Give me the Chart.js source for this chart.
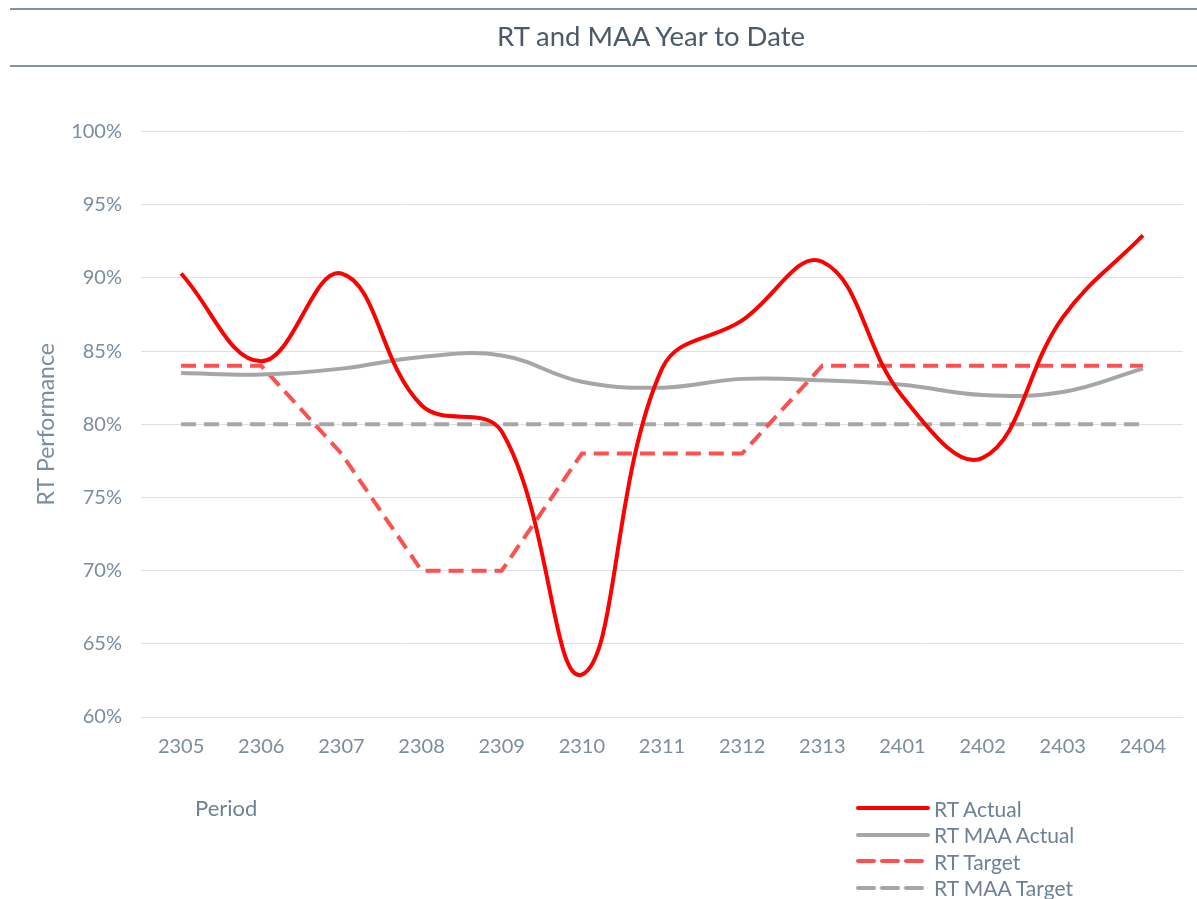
<!DOCTYPE html>
<html>
<head>
<meta charset="utf-8">
<script src="https://cdn.jsdelivr.net/npm/chart.js@4"></script>
<style>
  html, body { margin: 0; padding: 0; background: #fff; }
  body { width: 1197px; height: 899px; position: relative; overflow: hidden; font-family: Lato, "Open Sans", sans-serif; }
  #wrap { position: absolute; left: 0; top: 0; width: 1197px; height: 899px; }
  .hline { position: absolute; left: 10px; right: 0; height: 2px; background: #8393A3; }
  #title { position: absolute; left: 0; width: 1302px; top: 19px; text-align: center; font-size: 27.5px; color: #4B5A69; }
  #period { position: absolute; left: 195px; top: 794px; font-size: 22px; color: #6E8196; }
  #legend { position: absolute; left: 856px; top: 795px; }
  .item { height: 26.5px; display: flex; align-items: center; font-size: 21px; color: #6E8196; }
  .item svg { width: 74px; height: 10px; margin-right: 4px; }
</style>
</head>
<body>
<div id="wrap"><canvas id="c" width="1197" height="899"></canvas></div>
<div class="hline" style="top:8px"></div>
<div class="hline" style="top:65px"></div>
<div id="title">RT and MAA Year to Date</div>
<div id="period">Period</div>
<div id="legend"></div>
<script>
const periods = ['2305','2306','2307','2308','2309','2310','2311','2312','2313','2401','2402','2403','2404'];
const rtActual    = [90.3, 84.3, 90.3, 81.3, 79.5, 62.9, 83.8, 87.1, 91.1, 81.9, 77.7, 87.3, 92.9];
const rtMaaActual = [83.5, 83.4, 83.8, 84.6, 84.7, 82.9, 82.5, 83.1, 83.0, 82.7, 82.0, 82.2, 83.8];
const rtTarget    = [84, 84, 78, 70, 70, 78, 78, 78, 84, 84, 84, 84, 84];
const rtMaaTarget = [80, 80, 80, 80, 80, 80, 80, 80, 80, 80, 80, 80, 80];
const yTicks = [60, 65, 70, 75, 80, 85, 90, 95, 100];

const seriesNames = ['RT Actual', 'RT MAA Actual', 'RT Target', 'RT MAA Target'];
const seriesColors = ['#FF0000', '#A6A6A6', '#FF5050', '#A6A6A6'];
const seriesDash = [[], [], [15, 8], [15, 8]];

const datasets = [
  { label: seriesNames[0], data: rtActual, borderColor: seriesColors[0], borderWidth: 4, tension: 0.4, pointRadius: 0, borderDash: seriesDash[0], order: 1 },
  { label: seriesNames[1], data: rtMaaActual, borderColor: seriesColors[1], borderWidth: 4, tension: 0.4, pointRadius: 0, borderDash: seriesDash[1], order: 2 },
  { label: seriesNames[2], data: rtTarget, borderColor: seriesColors[2], borderWidth: 4, tension: 0, pointRadius: 0, borderDash: seriesDash[2], order: 3 },
  { label: seriesNames[3], data: rtMaaTarget, borderColor: seriesColors[3], borderWidth: 4, tension: 0, pointRadius: 0, borderDash: seriesDash[3], order: 4 }
];

const tickColor = '#7A8DA0';
new Chart(document.getElementById('c'), {
  type: 'line',
  data: { labels: periods, datasets },
  options: {
    responsive: false,
    animation: false,
    layout: { padding: { top: 131.5, right: 14, left: 0, bottom: 0 } },
    plugins: { legend: { display: false }, tooltip: { enabled: false }, title: { display: false } },
    scales: {
      x: {
        offset: true,
        grid: { display: false, drawTicks: false },
        border: { display: false },
        ticks: { color: tickColor, font: { family: 'Lato', size: 20 }, padding: 18, maxRotation: 0 },
        afterFit: (s) => { s.height = 182; }
      },
      y: {
        min: 60, max: 100,
        afterBuildTicks: (s) => { s.ticks = yTicks.map(v => ({ value: v })); },
        grid: { color: '#D9E0E8', lineWidth: 1, drawTicks: false },
        border: { display: false },
        ticks: { color: tickColor, font: { family: 'Lato', size: 20 }, padding: 19, callback: (v) => v + '%' },
        title: { display: true, text: 'RT Performance', color: tickColor, font: { family: 'Lato', size: 23 }, padding: { top: 33, bottom: 0 } },
        afterFit: (s) => { s.width = 141; }
      }
    }
  }
});

const legend = document.getElementById('legend');
seriesNames.forEach((n, i) => {
  const d = document.createElement('div');
  d.className = 'item';
  const dash = seriesDash[i].length ? `stroke-dasharray="16 8"` : '';
  const x2 = seriesDash[i].length ? 66 : 72;
  d.innerHTML = `<svg viewBox="0 0 74 10"><line x1="2" y1="5" x2="${x2}" y2="5" stroke="${seriesColors[i]}" stroke-width="4" stroke-linecap="round" ${dash}/></svg><span>${n}</span>`;
  legend.appendChild(d);
});
</script>
</body>
</html>
